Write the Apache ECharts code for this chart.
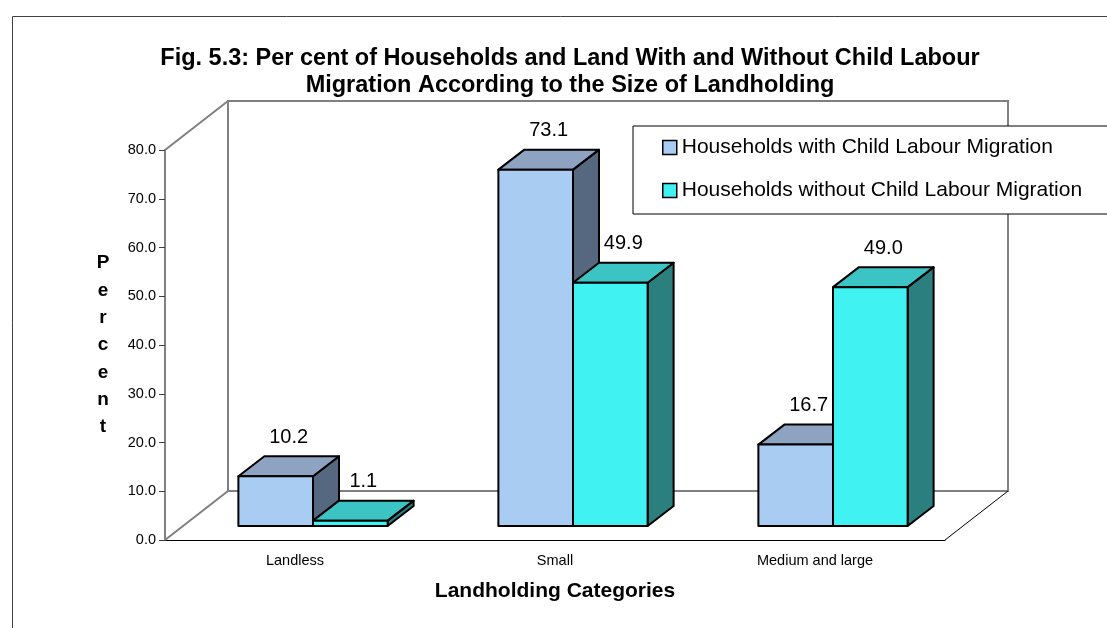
<!DOCTYPE html>
<html>
<head>
<meta charset="utf-8">
<script src="https://cdn.jsdelivr.net/npm/echarts@6/dist/echarts.min.js"></script>
<style>
  html, body { margin: 0; padding: 0; background: #fff; }
  #chart { width: 1107px; height: 628px; }
</style>
</head>
<body>
<div id="chart"></div>
<script>
// Landholding categories and the two household groups (per cent)
const categories = ['Landless', 'Small', 'Medium and large'];
const withMigration = [10.2, 73.1, 16.7];
const withoutMigration = [1.1, 49.9, 49.0];
const seriesNames = [
  'Households with Child Labour Migration',
  'Households without Child Labour Migration'
];
const yTicks = { min: 0, max: 80, interval: 10 };

const FONT = 'Arial, "Liberation Sans", sans-serif';

// Oblique projection used for the pseudo-3D look
const WALL = [63, -49];      // depth of the floor / side wall
const BAR_SHIFT = [18, -14]; // front plane of the bars behind the axis plane
const BAR_DEPTH = [26, -20]; // thickness of each block

const palettes = [
  { front: '#a9cdf2', top: '#8ea3c1', side: '#56687f' },
  { front: '#40f2f2', top: '#3cc3c3', side: '#2b7f7f' }
];

function blockRenderer(idx) {
  const pal = palettes[idx];
  return function (params, api) {
    const cat = api.value(0);
    const v = api.value(1);
    const base = api.coord([cat, 0]);
    const top = api.coord([cat, v]);
    const bw = api.size([1, 0])[0] * 0.287;
    const x0 = base[0] + BAR_SHIFT[0] + (idx === 0 ? -bw : 0);
    const x1 = x0 + bw;
    const yb = base[1] + BAR_SHIFT[1];
    const yt = top[1] + BAR_SHIFT[1];
    const dx = BAR_DEPTH[0], dy = BAR_DEPTH[1];
    const edge = { stroke: '#000', lineWidth: 2, lineJoin: 'round' };
    return {
      type: 'group',
      children: [
        { type: 'polygon', shape: { points: [[x1, yb], [x1 + dx, yb + dy], [x1 + dx, yt + dy], [x1, yt]] },
          style: Object.assign({ fill: pal.side }, edge) },
        { type: 'polygon', shape: { points: [[x0, yt], [x0 + dx, yt + dy], [x1 + dx, yt + dy], [x1, yt]] },
          style: Object.assign({ fill: pal.top }, edge) },
        { type: 'polygon', shape: { points: [[x0, yb], [x1, yb], [x1, yt], [x0, yt]] },
          style: Object.assign({ fill: pal.front }, edge) },
        { type: 'text', x: (x0 + x1) / 2 + dx / 2, y: yt - 39,
          style: { text: v.toFixed(1), font: '20px ' + FONT, fill: '#000',
                   align: 'center', verticalAlign: 'middle' } }
      ]
    };
  };
}

// Back wall, side wall and floor outline derived from the grid rectangle
function renderWalls(params) {
  const cs = params.coordSys;
  const L = cs.x, R = cs.x + cs.width, T = cs.y, B = cs.y + cs.height;
  const gray = { stroke: '#808080', lineWidth: 2, fill: null };
  return {
    type: 'group',
    children: [
      { type: 'rect', shape: { x: L + WALL[0], y: T + WALL[1], width: cs.width, height: cs.height }, style: gray },
      { type: 'line', shape: { x1: L, y1: T, x2: L + WALL[0], y2: T + WALL[1] }, style: gray },
      { type: 'line', shape: { x1: L, y1: B, x2: L + WALL[0], y2: B + WALL[1] }, style: gray },
      { type: 'line', shape: { x1: R, y1: B, x2: R + WALL[0], y2: B + WALL[1] },
        style: { stroke: '#000', lineWidth: 1 } }
    ]
  };
}

const chart = echarts.init(document.getElementById('chart'), null, { renderer: 'canvas' });

chart.setOption({
  backgroundColor: '#fff',
  animation: false,
  textStyle: { fontFamily: FONT },
  title: {
    text: 'Fig. 5.3: Per cent of Households and Land With and Without Child Labour\nMigration According to the Size of Landholding',
    left: 565,
    top: 40,
    textAlign: 'center',
    textStyle: { fontFamily: FONT, fontSize: 23.5, fontWeight: 'bold', color: '#000', lineHeight: 27 }
  },
  legend: {
    orient: 'vertical',
    left: 633,
    top: 126,
    padding: [11, 60, 13, 29],
    itemGap: 22,
    itemWidth: 14,
    itemHeight: 14,
    backgroundColor: '#fff',
    borderColor: '#000',
    borderWidth: 1,
    z: 10,
    textStyle: { fontFamily: FONT, fontSize: 21, color: '#000' },
    data: seriesNames.map((n, i) => ({
      name: n, icon: 'rect',
      itemStyle: { color: palettes[i].front, borderColor: '#000', borderWidth: 1.5 }
    }))
  },
  graphic: [
    { type: 'rect', left: 10, top: 14, z: -10, silent: true,
      shape: { width: 1200, height: 700 },
      style: { fill: null, stroke: '#404040', lineWidth: 1 } }
  ],
  grid: { left: 165, right: 162, top: 150, bottom: 88 },
  xAxis: {
    type: 'category',
    data: categories,
    boundaryGap: true,
    name: 'Landholding Categories',
    nameLocation: 'middle',
    nameGap: 41,
    nameTextStyle: { fontFamily: FONT, fontSize: 21, fontWeight: 'bold', color: '#000' },
    axisLine: { lineStyle: { color: '#000', width: 1 } },
    axisTick: { length: 7, lineStyle: { color: '#000' } },
    axisLabel: { fontSize: 14.5, color: '#000', margin: 13 },
    splitLine: { show: false }
  },
  yAxis: {
    type: 'value',
    min: yTicks.min,
    max: yTicks.max,
    interval: yTicks.interval,
    name: 'P\ne\nr\nc\ne\nn\nt',
    nameLocation: 'middle',
    nameRotate: 0,
    nameGap: 62,
    nameTextStyle: { fontFamily: FONT, fontSize: 19, fontWeight: 'bold', color: '#000',
                     lineHeight: 27.3, align: 'center', verticalAlign: 'middle' },
    axisLine: { show: true, lineStyle: { color: '#808080', width: 2 } },
    axisTick: { show: true, length: 6, lineStyle: { color: '#404040' } },
    axisLabel: { fontSize: 14.5, color: '#000', margin: 9, formatter: v => v.toFixed(1) },
    splitLine: { show: false }
  },
  series: [
    { type: 'custom', name: 'walls', silent: true, z: 1,
      renderItem: renderWalls, data: [[0, 0]] },
    { type: 'custom', name: seriesNames[0], z: 2,
      itemStyle: { color: palettes[0].front },
      renderItem: blockRenderer(0),
      data: withMigration.map((v, i) => [i, v]) },
    { type: 'custom', name: seriesNames[1], z: 3,
      itemStyle: { color: palettes[1].front },
      renderItem: blockRenderer(1),
      data: withoutMigration.map((v, i) => [i, v]) }
  ]
});
</script>
</body>
</html>
